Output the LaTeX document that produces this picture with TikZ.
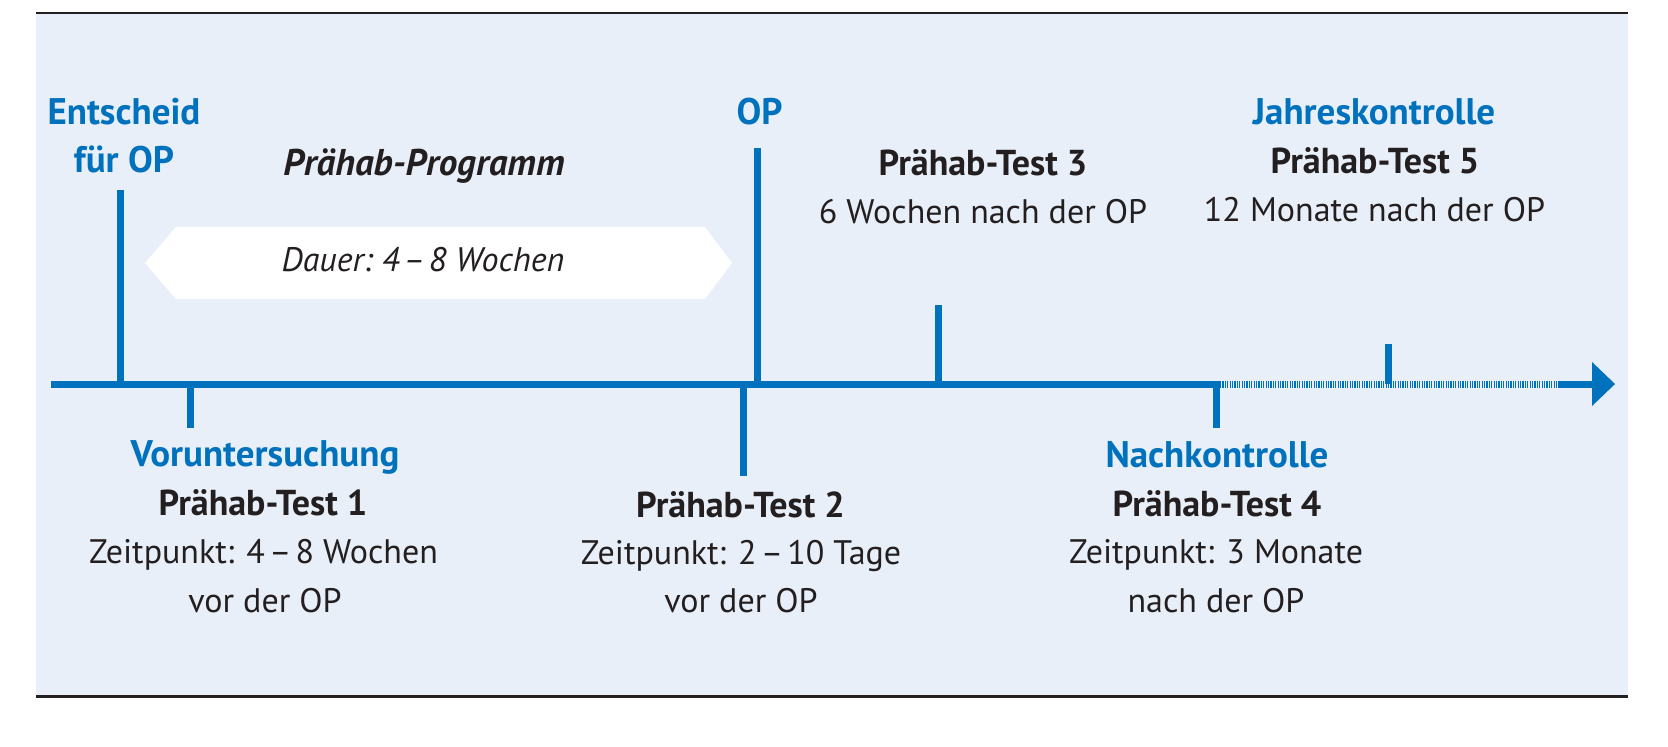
\documentclass[tikz,border=0pt]{standalone}
\usepackage{fontspec}
\setmainfont{PT Sans}
\definecolor{tlblue}{HTML}{0071BC}
\definecolor{bgblue}{HTML}{E8EFF8}
\definecolor{ink}{HTML}{231F20}
\newcommand{\dsh}{\kern0.12em–\kern0.12em}
\tikzset{
  txt/.style={anchor=base, inner sep=0pt, text=ink, font=\fontsize{17}{21}\selectfont},
  bluetxt/.style={txt, text=tlblue, font=\fontsize{18.5}{21}\selectfont\bfseries},
  boldtxt/.style={txt, font=\fontsize{18}{21}\selectfont\bfseries},
  itxt/.style={txt, font=\fontsize{17}{21}\selectfont\itshape},
  bitxt/.style={txt, font=\fontsize{18.6}{21}\selectfont\bfseries\itshape},
  axisline/.style={draw=tlblue, line width=3.5pt},
  tickline/.style={draw=tlblue, line width=3.5pt},
  hatchline/.style={draw=tlblue, line width=3.5pt, dash pattern=on 0.55pt off 0.65pt},
}
\begin{document}
\begin{tikzpicture}[x=0.5pt,y=-0.5pt]
\useasboundingbox (0,0) rectangle (1668,746);
% background and frame lines
\fill[bgblue] (36,13) rectangle (1628,696);
\draw[ink, line width=1pt] (36,13) -- (1628,13);
\draw[ink, line width=1.5pt] (36,696) -- (1628,696);

% hexagon band
\fill[white] (145,263) -- (176,227) -- (705,227) -- (732,263) -- (705,299) -- (176,299) -- cycle;

% timeline coordinates
\coordinate (start) at (51,384);
\coordinate (solidend) at (1220,384);
\coordinate (hatchend) at (1558,384);
\coordinate (headbase) at (1593,384);
\coordinate (tip) at (1615,384);

\coordinate (a1) at (120,384); \coordinate (a1e) at (120,190);
\coordinate (a2) at (190,384); \coordinate (a2e) at (190,428);
\coordinate (a3) at (757.5,384); \coordinate (a3e) at (757.5,148);
\coordinate (a4) at (743,384); \coordinate (a4e) at (743,476);
\coordinate (a5) at (938,384); \coordinate (a5e) at (938,305);
\coordinate (a6) at (1216,384); \coordinate (a6e) at (1216,428);
\coordinate (a7) at (1388,384); \coordinate (a7e) at (1388,344);

% ticks
\draw[tickline] (a1) -- (a1e);
\draw[tickline] (a2) -- (a2e);
\draw[tickline] (a3) -- (a3e);
\draw[tickline] (a4) -- (a4e);
\draw[tickline] (a5) -- (a5e);
\draw[tickline] (a6) -- (a6e);
\draw[tickline] (a7) -- (a7e);

% axis
\draw[axisline] (start) -- (solidend);
\draw[hatchline] (solidend) -- (hatchend);
\draw[axisline] (hatchend) -- (headbase);
\fill[tlblue] (1592,362) -- (tip) -- (1592,406) -- cycle;

% labels top
\node[bluetxt] (entsch) at (124,124) {Entscheid};
\node[bluetxt] (fuerop) at (124,172) {für OP};
\node[bitxt] (prog) at (424,175) {Prähab-Programm};
\node[itxt] (dauer) at (423,271) {Dauer:~4\dsh 8 Wochen};
\node[bluetxt] (op) at (759.5,124) {OP};
\node[boldtxt] (t3) at (983,175) {Prähab-Test 3};
\node[txt] (t3d) at (983,223) {6 Wochen nach der OP};
\node[bluetxt] (jk) at (1374,124) {Jahreskontrolle};
\node[boldtxt] (t5) at (1375,173) {Prähab-Test 5};
\node[txt] (t5d) at (1374.5,221) {12 Monate nach der OP};

% labels bottom
\node[bluetxt] (vu) at (265,466) {Voruntersuchung};
\node[boldtxt] (t1) at (263,515) {Prähab-Test 1};
\node[txt] (t1d) at (263.5,563) {Zeitpunkt: 4\dsh 8 Wochen};
\node[txt] (t1e) at (265,612) {vor der OP};
\node[boldtxt] (t2) at (740.5,517) {Prähab-Test 2};
\node[txt] (t2d) at (741,564) {Zeitpunkt: 2\dsh 10 Tage};
\node[txt] (t2e) at (741,612) {vor der OP};
\node[bluetxt] (nk) at (1217,467) {Nachkontrolle};
\node[boldtxt] (t4) at (1217,516) {Prähab-Test 4};
\node[txt] (t4d) at (1216,563) {Zeitpunkt: 3 Monate};
\node[txt] (t4e) at (1216,612) {nach der OP};
\end{tikzpicture}
\end{document}
